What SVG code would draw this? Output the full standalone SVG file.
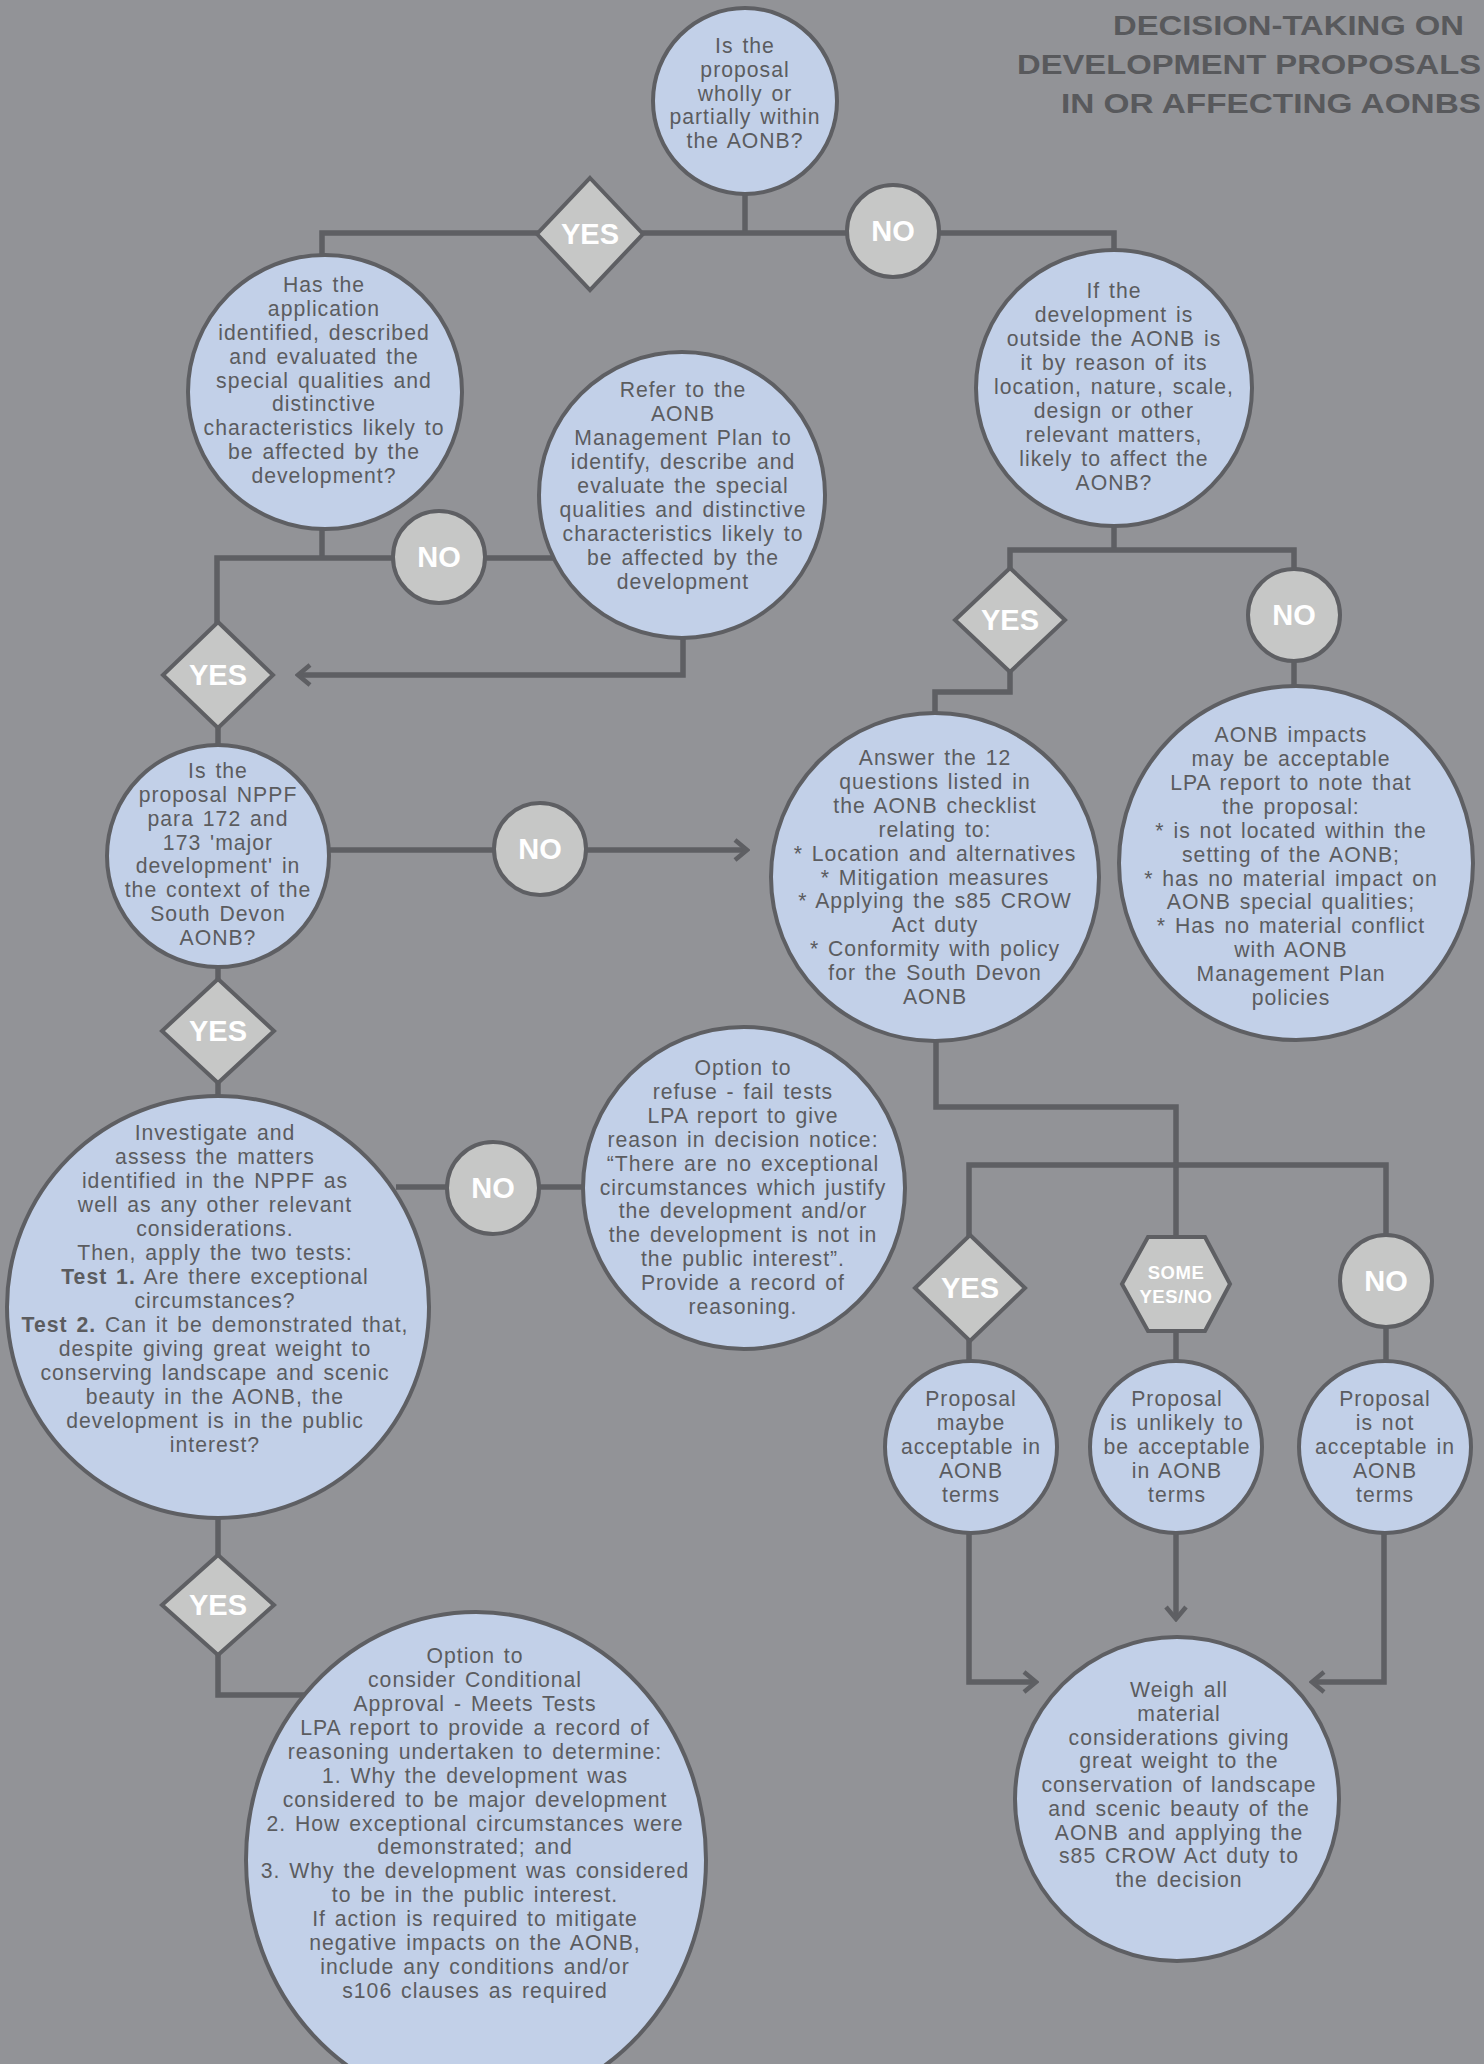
<svg xmlns="http://www.w3.org/2000/svg" width="1484" height="2064" viewBox="0 0 1484 2064">
<style>
.bg{fill:#929397}
.node{fill:#c2d0e8;stroke:#5e5f63;stroke-width:4}
.dec{fill:#c6c7c6;stroke:#5e5f63;stroke-width:4}
.con{fill:none;stroke:#5e5f63;stroke-width:5.5}
.t{font-family:"Liberation Sans",Arial,sans-serif;font-size:21.2px;letter-spacing:1px;word-spacing:2px;fill:#5b5c5f;text-anchor:middle}
.lbl{font-family:"Liberation Sans",Arial,sans-serif;font-weight:bold;font-size:29px;fill:#ffffff;text-anchor:middle}
.lbls{font-family:"Liberation Sans",Arial,sans-serif;font-weight:bold;font-size:18.5px;letter-spacing:0.5px;fill:#ffffff;text-anchor:middle}
.title{font-family:"Liberation Sans",Arial,sans-serif;font-weight:bold;font-size:27px;fill:#58595c;text-anchor:end}
.b{font-weight:bold}
</style>
<defs>
<marker id="arr" markerUnits="userSpaceOnUse" markerWidth="20" markerHeight="24" viewBox="0 0 20 24" refX="17" refY="12" orient="auto">
<path d="M5,2 L17,12 L5,22" fill="none" stroke="#5e5f63" stroke-width="4.5"/>
</marker>
</defs>
<rect class="bg" x="0" y="0" width="1484" height="2064"/>

<g id="title">
<text class="title" x="1464" y="35" textLength="351" lengthAdjust="spacingAndGlyphs">DECISION-TAKING ON</text>
<text class="title" x="1481" y="74" textLength="464" lengthAdjust="spacingAndGlyphs">DEVELOPMENT PROPOSALS</text>
<text class="title" x="1481" y="113" textLength="420" lengthAdjust="spacingAndGlyphs">IN OR AFFECTING AONBS</text>
</g>

<g id="connectors">
<path class="con" d="M745,190 V233"/>
<path class="con" d="M322,260 V233 H1114 V255"/>
<path class="con" d="M322,525 V558"/>
<path class="con" d="M217,625 V558 H562"/>
<path class="con" d="M683,634 V675 H298" marker-end="url(#arr)"/>
<path class="con" d="M218,725 V749"/>
<path class="con" d="M326,850 H747" marker-end="url(#arr)"/>
<path class="con" d="M218,964 V983"/>
<path class="con" d="M218,1080 V1099"/>
<path class="con" d="M396,1187 H590"/>
<path class="con" d="M218,1514 V1558"/>
<path class="con" d="M218,1652 V1695 H312"/>
<path class="con" d="M1114,522 V550"/>
<path class="con" d="M1010,571 V550 H1294 V572"/>
<path class="con" d="M1010,669 V692 H935 V716"/>
<path class="con" d="M1294,658 V690"/>
<path class="con" d="M936,1038 V1107 H1176 V1240"/>
<path class="con" d="M969,1238 V1165 H1386 V1237"/>
<path class="con" d="M969,1338 V1364"/>
<path class="con" d="M1176,1328 V1364"/>
<path class="con" d="M1386,1324 V1364"/>
<path class="con" d="M969,1530 V1682 H1036" marker-end="url(#arr)"/>
<path class="con" d="M1176,1530 V1619" marker-end="url(#arr)"/>
<path class="con" d="M1384,1530 V1682 H1312" marker-end="url(#arr)"/>
</g>

<g id="q-within">
<ellipse class="node" cx="745" cy="101" rx="92" ry="93"/>
<text class="t"><tspan x="745" y="53">Is the</tspan><tspan x="745" y="76.8">proposal</tspan><tspan x="745" y="100.5">wholly or</tspan><tspan x="745" y="124.3">partially within</tspan><tspan x="745" y="148">the AONB?</tspan></text>
</g>

<g id="yes-1">
<polygon class="dec" points="590,178 643,234 590,290 537,234"/>
<text class="lbl" x="590" y="244">YES</text>
</g>
<g id="no-1">
<circle class="dec" cx="893" cy="231" r="46"/>
<text class="lbl" x="893" y="241">NO</text>
</g>

<g id="q-identified">
<circle class="node" cx="325" cy="392" r="137"/>
<text class="t"><tspan x="324" y="292">Has the</tspan><tspan x="324" y="315.9">application</tspan><tspan x="324" y="339.8">identified, described</tspan><tspan x="324" y="363.6">and evaluated the</tspan><tspan x="324" y="387.5">special qualities and</tspan><tspan x="324" y="411.4">distinctive</tspan><tspan x="324" y="435.3">characteristics likely to</tspan><tspan x="324" y="459.1">be affected by the</tspan><tspan x="324" y="483">development?</tspan></text>
</g>

<g id="no-2">
<circle class="dec" cx="439" cy="557" r="46"/>
<text class="lbl" x="439" y="567">NO</text>
</g>

<g id="refer-plan">
<circle class="node" cx="682" cy="495" r="143"/>
<text class="t"><tspan x="683" y="397">Refer to the</tspan><tspan x="683" y="421">AONB</tspan><tspan x="683" y="445">Management Plan to</tspan><tspan x="683" y="469">identify, describe and</tspan><tspan x="683" y="493">evaluate the special</tspan><tspan x="683" y="517">qualities and distinctive</tspan><tspan x="683" y="541">characteristics likely to</tspan><tspan x="683" y="565">be affected by the</tspan><tspan x="683" y="589">development</tspan></text>
</g>

<g id="yes-2">
<polygon class="dec" points="218,622 273,675 218,728 163,675"/>
<text class="lbl" x="218" y="685">YES</text>
</g>

<g id="q-outside">
<circle class="node" cx="1114" cy="388" r="138"/>
<text class="t"><tspan x="1114" y="298">If the</tspan><tspan x="1114" y="322">development is</tspan><tspan x="1114" y="346">outside the AONB is</tspan><tspan x="1114" y="370">it by reason of its</tspan><tspan x="1114" y="394">location, nature, scale,</tspan><tspan x="1114" y="418">design or other</tspan><tspan x="1114" y="442">relevant matters,</tspan><tspan x="1114" y="466">likely to affect the</tspan><tspan x="1114" y="490">AONB?</tspan></text>
</g>

<g id="yes-3">
<polygon class="dec" points="1010,568 1065,620 1010,672 955,620"/>
<text class="lbl" x="1010" y="630">YES</text>
</g>
<g id="no-3">
<circle class="dec" cx="1294" cy="615" r="46"/>
<text class="lbl" x="1294" y="625">NO</text>
</g>

<g id="q-major">
<circle class="node" cx="218" cy="856" r="111"/>
<text class="t"><tspan x="218" y="778">Is the</tspan><tspan x="218" y="801.9">proposal NPPF</tspan><tspan x="218" y="825.7">para 172 and</tspan><tspan x="218" y="849.6">173 'major</tspan><tspan x="218" y="873.4">development' in</tspan><tspan x="218" y="897.3">the context of the</tspan><tspan x="218" y="921.1">South Devon</tspan><tspan x="218" y="945">AONB?</tspan></text>
</g>

<g id="no-4">
<circle class="dec" cx="540" cy="849" r="46"/>
<text class="lbl" x="540" y="859">NO</text>
</g>

<g id="checklist">
<circle class="node" cx="935" cy="877" r="164"/>
<text class="t"><tspan x="935" y="765">Answer the 12</tspan><tspan x="935" y="788.9">questions listed in</tspan><tspan x="935" y="812.8">the AONB checklist</tspan><tspan x="935" y="836.7">relating to:</tspan><tspan x="935" y="860.6">* Location and alternatives</tspan><tspan x="935" y="884.5">* Mitigation measures</tspan><tspan x="935" y="908.4">* Applying the s85 CROW</tspan><tspan x="935" y="932.3">Act duty</tspan><tspan x="935" y="956.2">* Conformity with policy</tspan><tspan x="935" y="980.1">for the South Devon</tspan><tspan x="935" y="1004">AONB</tspan></text>
</g>

<g id="impacts-acceptable">
<circle class="node" cx="1296" cy="863" r="177"/>
<text class="t"><tspan x="1291" y="742">AONB impacts</tspan><tspan x="1291" y="765.9">may be acceptable</tspan><tspan x="1291" y="789.8">LPA report to note that</tspan><tspan x="1291" y="813.7">the proposal:</tspan><tspan x="1291" y="837.6">* is not located within the</tspan><tspan x="1291" y="861.5">setting of the AONB;</tspan><tspan x="1291" y="885.5">* has no material impact on</tspan><tspan x="1291" y="909.4">AONB special qualities;</tspan><tspan x="1291" y="933.3">* Has no material conflict</tspan><tspan x="1291" y="957.2">with AONB</tspan><tspan x="1291" y="981.1">Management Plan</tspan><tspan x="1291" y="1005">policies</tspan></text>
</g>

<g id="yes-4">
<polygon class="dec" points="218,979 274,1031 218,1083 162,1031"/>
<text class="lbl" x="218" y="1041">YES</text>
</g>

<g id="investigate">
<circle class="node" cx="218" cy="1307" r="211"/>
<text class="t"><tspan x="215" y="1140">Investigate and</tspan><tspan x="215" y="1164">assess the matters</tspan><tspan x="215" y="1188">identified in the NPPF as</tspan><tspan x="215" y="1212">well as any other relevant</tspan><tspan x="215" y="1236">considerations.</tspan><tspan x="215" y="1260">Then, apply the two tests:</tspan><tspan x="215" y="1284"><tspan class="b">Test 1.</tspan> Are there exceptional</tspan><tspan x="215" y="1308">circumstances?</tspan><tspan x="215" y="1332"><tspan class="b">Test 2.</tspan> Can it be demonstrated that,</tspan><tspan x="215" y="1356">despite giving great weight to</tspan><tspan x="215" y="1380">conserving landscape and scenic</tspan><tspan x="215" y="1404">beauty in the AONB, the</tspan><tspan x="215" y="1428">development is in the public</tspan><tspan x="215" y="1452">interest?</tspan></text>
</g>

<g id="no-5">
<circle class="dec" cx="493" cy="1188" r="46"/>
<text class="lbl" x="493" y="1198">NO</text>
</g>

<g id="refuse">
<circle class="node" cx="744" cy="1188" r="161"/>
<text class="t"><tspan x="743" y="1075">Option to</tspan><tspan x="743" y="1098.9">refuse - fail tests</tspan><tspan x="743" y="1122.8">LPA report to give</tspan><tspan x="743" y="1146.7">reason in decision notice:</tspan><tspan x="743" y="1170.6">“There are no exceptional</tspan><tspan x="743" y="1194.5">circumstances which justify</tspan><tspan x="743" y="1218.4">the development and/or</tspan><tspan x="743" y="1242.3">the development is not in</tspan><tspan x="743" y="1266.2">the public interest”.</tspan><tspan x="743" y="1290.1">Provide a record of</tspan><tspan x="743" y="1314">reasoning.</tspan></text>
</g>

<g id="yes-5">
<polygon class="dec" points="218,1555 274,1605 218,1655 162,1605"/>
<text class="lbl" x="218" y="1615">YES</text>
</g>

<g id="approval">
<ellipse class="node" cx="476" cy="1860" rx="230" ry="248"/>
<text class="t"><tspan x="475" y="1663">Option to</tspan><tspan x="475" y="1686.9">consider Conditional</tspan><tspan x="475" y="1710.9">Approval - Meets Tests</tspan><tspan x="475" y="1734.8">LPA report to provide a record of</tspan><tspan x="475" y="1758.7">reasoning undertaken to determine:</tspan><tspan x="475" y="1782.6">1. Why the development was</tspan><tspan x="475" y="1806.6">considered to be major development</tspan><tspan x="475" y="1830.5">2. How exceptional circumstances were</tspan><tspan x="475" y="1854.4">demonstrated; and</tspan><tspan x="475" y="1878.4">3. Why the development was considered</tspan><tspan x="475" y="1902.3">to be in the public interest.</tspan><tspan x="475" y="1926.2">If action is required to mitigate</tspan><tspan x="475" y="1950.2">negative impacts on the AONB,</tspan><tspan x="475" y="1974.1">include any conditions and/or</tspan><tspan x="475" y="1998">s106 clauses as required</tspan></text>
</g>

<g id="yes-6">
<polygon class="dec" points="970,1235 1025,1288 970,1341 915,1288"/>
<text class="lbl" x="970" y="1298">YES</text>
</g>
<g id="some-yes-no">
<polygon class="dec" points="1148,1237 1205,1237 1230,1284 1205,1331 1148,1331 1122,1284"/>
<text class="lbls"><tspan x="1176" y="1279">SOME</tspan><tspan x="1176" y="1303">YES/NO</tspan></text>
</g>
<g id="no-6">
<circle class="dec" cx="1386" cy="1281" r="46"/>
<text class="lbl" x="1386" y="1291">NO</text>
</g>

<g id="maybe-acceptable">
<circle class="node" cx="971" cy="1447" r="86"/>
<text class="t"><tspan x="971" y="1406">Proposal</tspan><tspan x="971" y="1430">maybe</tspan><tspan x="971" y="1454">acceptable in</tspan><tspan x="971" y="1478">AONB</tspan><tspan x="971" y="1502">terms</tspan></text>
</g>
<g id="unlikely-acceptable">
<circle class="node" cx="1176" cy="1447" r="86"/>
<text class="t"><tspan x="1177" y="1406">Proposal</tspan><tspan x="1177" y="1430">is unlikely to</tspan><tspan x="1177" y="1454">be acceptable</tspan><tspan x="1177" y="1478">in AONB</tspan><tspan x="1177" y="1502">terms</tspan></text>
</g>
<g id="not-acceptable">
<circle class="node" cx="1385" cy="1447" r="86"/>
<text class="t"><tspan x="1385" y="1406">Proposal</tspan><tspan x="1385" y="1430">is not</tspan><tspan x="1385" y="1454">acceptable in</tspan><tspan x="1385" y="1478">AONB</tspan><tspan x="1385" y="1502">terms</tspan></text>
</g>

<g id="weigh">
<circle class="node" cx="1177" cy="1799" r="162"/>
<text class="t"><tspan x="1179" y="1697">Weigh all</tspan><tspan x="1179" y="1720.8">material</tspan><tspan x="1179" y="1744.5">considerations giving</tspan><tspan x="1179" y="1768.3">great weight to the</tspan><tspan x="1179" y="1792">conservation of landscape</tspan><tspan x="1179" y="1815.8">and scenic beauty of the</tspan><tspan x="1179" y="1839.5">AONB and applying the</tspan><tspan x="1179" y="1863.3">s85 CROW Act duty to</tspan><tspan x="1179" y="1887">the decision</tspan></text>
</g>
</svg>
